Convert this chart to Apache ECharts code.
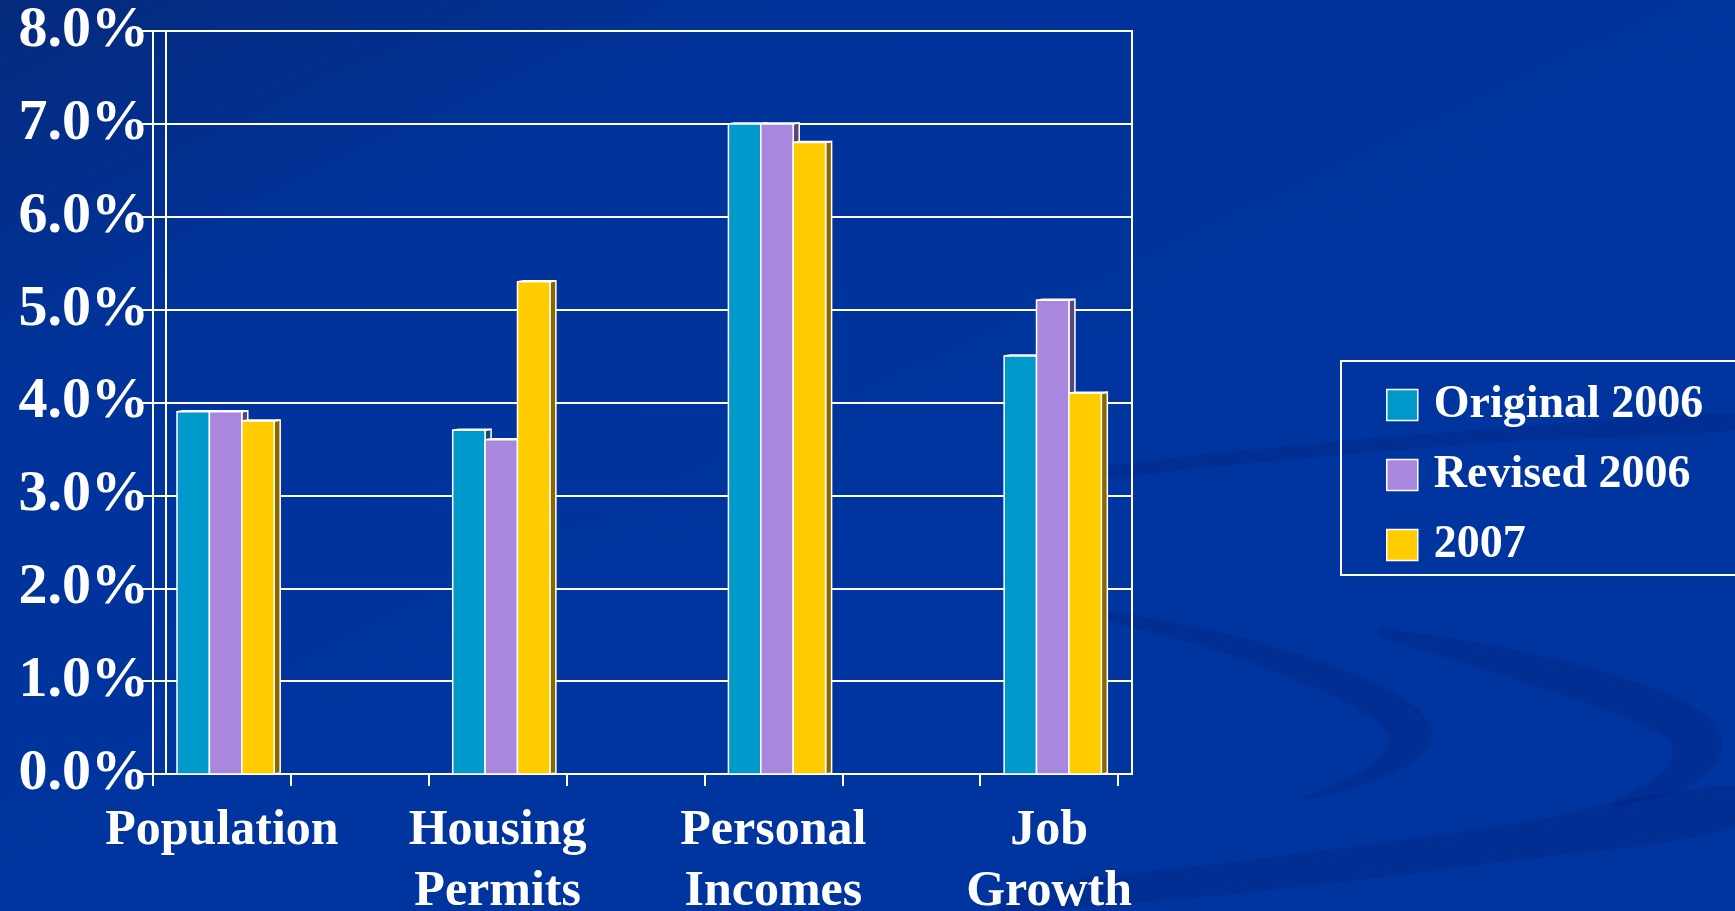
<!DOCTYPE html>
<html>
<head>
<meta charset="utf-8">
<title>Growth Indicators</title>
<script src="https://cdn.jsdelivr.net/npm/echarts@6/dist/echarts.min.js"></script>
<style>
  html, body { margin: 0; padding: 0; width: 100%; height: 100%; overflow: hidden; background: #00339b; }
  #chart { width: 1735px; height: 911px; }
</style>
</head>
<body>
<div id="chart"></div>
<script>
// Indicator groups shown along the floor of the chart
const categories = ['Population', 'Housing\nPermits', 'Personal\nIncomes', 'Job\nGrowth'];

// Growth rates in percent
const original2006 = [3.9, 3.7, 7.0, 4.5];
const revised2006 = [3.9, 3.6, 7.0, 5.1];
const year2007 = [3.8, 5.3, 6.8, 4.1];

const seriesNames = ['Original 2006', 'Revised 2006', '2007'];

// Value axis range, in percent
const yMin = 0;
const yMax = 8;
const yStep = 1;

const faceColors = ['#0099cc', '#a987de', '#ffcc00'];
const sideColors = ['#0b4f6e', '#554878', '#8a6800'];
const FONT = '"Liberation Serif", "Times New Roman", serif';

// Each indicator is followed by an empty slot, giving the wide gaps between groups
const slots = [];
categories.forEach((c, i) => { if (i) slots.push(''); slots.push(c); });
const slotOf = i => i * 2;

const seriesData = [original2006, revised2006, year2007];

function makeRender(k) {
  return function (params, api) {
    const slot = api.value(0);
    const v = api.value(1);
    const base = api.coord([slot, 0]);
    const top = api.coord([slot, v]);
    const catW = api.size([1, 0])[0];
    const barW = catW * 0.235;
    const depth = 6, rise = 1;
    const x0 = base[0] - catW * 0.326 + k * barW;
    const x1 = x0 + barW;
    return {
      type: 'group',
      children: [
        {
          type: 'polygon',
          shape: { points: [[x1, top[1]], [x1 + depth, top[1] - rise], [x1 + depth, base[1] - rise], [x1, base[1]]] },
          style: { fill: sideColors[k], stroke: '#ffffff', lineWidth: 1.5 }
        },
        {
          type: 'polygon',
          shape: { points: [[x0, top[1]], [x0 + depth, top[1] - rise], [x1 + depth, top[1] - rise], [x1, top[1]]] },
          style: { fill: '#dfe6f5', stroke: '#ffffff', lineWidth: 1.5 }
        },
        {
          type: 'rect',
          shape: { x: x0, y: top[1], width: barW, height: base[1] - top[1] },
          style: { fill: faceColors[k], stroke: '#ffffff', lineWidth: 1.5 }
        }
      ]
    };
  };
}

// faint swooshes in the slide background
const swooshFill = 'rgba(0,22,95,0.2)';
const swooshes = [
  [[1040, 476], [1250, 450], [1500, 428], [1735, 414], [1735, 430], [1500, 442], [1260, 462], [1040, 484]],
  [[1080, 606], [1250, 640], [1390, 690], [1432, 732], [1400, 770], [1300, 800], [1372, 764], [1388, 735], [1340, 700], [1230, 655], [1080, 612]],
  [[1380, 628], [1560, 660], [1690, 705], [1722, 745], [1690, 785], [1610, 805], [1665, 770], [1670, 742], [1600, 708], [1480, 668], [1380, 636]],
  [[1000, 892], [1250, 860], [1500, 826], [1735, 786], [1735, 826], [1500, 862], [1250, 892], [1030, 911], [1000, 911]]
];

const chart = echarts.init(document.getElementById('chart'), null, { renderer: 'canvas' });

const option = {
  backgroundColor: {
    type: 'linear', x: 0, y: 0, x2: 0.25, y2: 1,
    colorStops: [
      { offset: 0, color: '#052a7c' },
      { offset: 0.35, color: '#00339a' },
      { offset: 1, color: '#0035a0' }
    ]
  },
  animation: false,
  graphic: swooshes.map(pts => ({
    type: 'polygon', z: -10, silent: true,
    shape: { points: pts, smooth: 0.35 },
    style: { fill: swooshFill }
  })),
  legend: {
    orient: 'vertical',
    left: 1341,
    top: 361,
    padding: [21, 120, 7, 45],
    itemGap: 24,
    itemWidth: 31,
    itemHeight: 31,
    icon: 'rect',
    borderColor: '#ffffff',
    borderWidth: 2,
    selectedMode: false,
    itemStyle: { borderColor: '#ffffff', borderWidth: 1.5 },
    textStyle: {
      color: '#ffffff', fontFamily: FONT, fontWeight: 'bold', fontSize: 46,
      lineHeight: 46, padding: [0, 0, 0, 11]
    },
    data: seriesNames.map((n, k) => ({ name: n, itemStyle: { color: faceColors[k] } }))
  },
  grid: [
    // front plane: axes, ticks and labels
    { left: 153, top: 31, width: 965, height: 743, show: false, containLabel: false, outerBoundsMode: 'none' },
    // back wall of the plot
    { left: 166, top: 31, width: 966, height: 743, show: true, borderColor: '#ffffff', borderWidth: 2,
      backgroundColor: 'transparent', containLabel: false, outerBoundsMode: 'none' }
  ],
  xAxis: [
    {
      gridIndex: 0,
      type: 'category',
      data: slots,
      axisLine: { show: true, lineStyle: { color: '#ffffff', width: 2 } },
      axisTick: { show: true, interval: 0, length: 12, lineStyle: { color: '#ffffff', width: 2 } },
      axisLabel: {
        interval: 0, margin: 27, color: '#ffffff', fontFamily: FONT, fontWeight: 'bold',
        fontSize: 50, lineHeight: 61, verticalAlign: 'top'
      },
      splitLine: { show: false }
    },
    {
      gridIndex: 1,
      type: 'category',
      data: slots,
      show: false
    }
  ],
  yAxis: [
    {
      gridIndex: 0,
      type: 'value',
      min: yMin, max: yMax, interval: yStep,
      axisLine: { show: true, lineStyle: { color: '#ffffff', width: 2 } },
      axisTick: { show: true, length: 11, lineStyle: { color: '#ffffff', width: 2 } },
      axisLabel: {
        margin: 4, color: '#ffffff', fontFamily: FONT, fontWeight: 'bold', fontSize: 58,
        formatter: v => v.toFixed(1) + '%'
      },
      splitLine: { show: true, lineStyle: { color: '#ffffff', width: 2 } }
    },
    {
      gridIndex: 1,
      type: 'value',
      min: yMin, max: yMax, interval: yStep,
      axisLine: { show: false },
      axisTick: { show: false },
      axisLabel: { show: false },
      splitLine: { show: true, lineStyle: { color: '#ffffff', width: 2 } }
    }
  ],
  series: seriesData.map((values, k) => ({
    name: seriesNames[k],
    type: 'custom',
    xAxisIndex: 0,
    yAxisIndex: 0,
    clip: false,
    itemStyle: { color: faceColors[k] },
    encode: { x: 0, y: 1 },
    data: values.map((v, i) => [slotOf(i), v]),
    renderItem: makeRender(k),
    z: 3
  }))
};

chart.setOption(option);
</script>
</body>
</html>
